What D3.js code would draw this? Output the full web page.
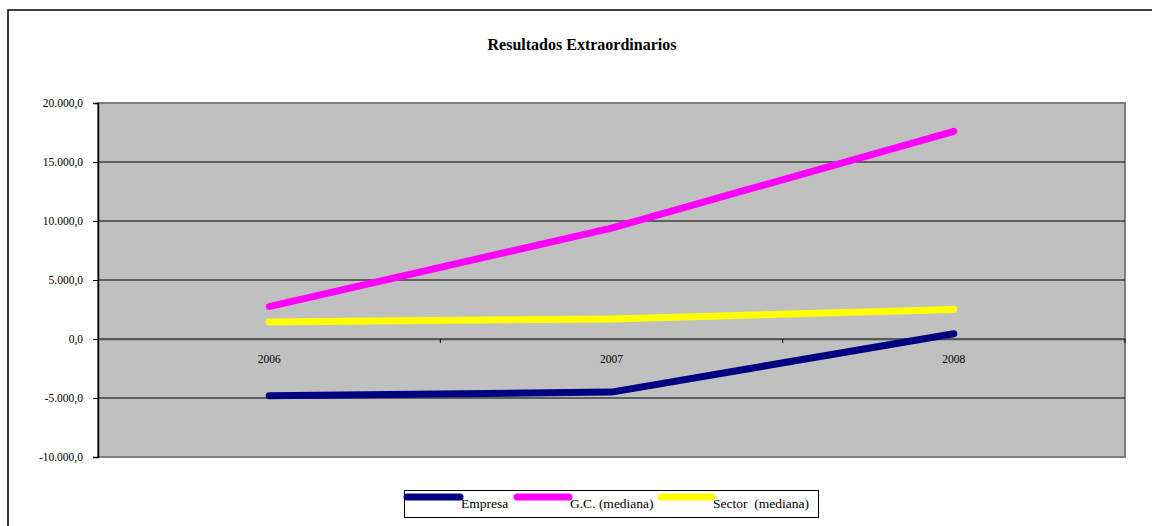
<!DOCTYPE html>
<html><head><meta charset="utf-8">
<script src="https://cdn.jsdelivr.net/npm/d3@7"></script>
<style>body{margin:0;background:#fff}svg{display:block;font-family:"Liberation Serif","Times New Roman",serif}</style>
</head><body><svg id="c" width="1152" height="526"></svg>
<script>
const categories = ["2006","2007","2008"];
const seriesNames = ["Empresa","G.C. (mediana)","Sector  (mediana)"];
const seriesColors = ["#000080","#ff00ff","#ffff00"];
const empresa = [-4800, -4500, 450];
const gc = [2750, 9400, 17600];
const sector = [1450, 1700, 2500];
const yTicks = [-10000,-5000,0,5000,10000,15000,20000];
const title = "Resultados Extraordinarios";

const svg = d3.select("#c");
const L=98, R=1125, T=103, B=457;
const FF = "'Liberation Serif','Times New Roman',serif";
// outer border
svg.append("path").attr("d","M8,526 L8,10 L1152,10").attr("fill","none").attr("stroke","#000").attr("stroke-width",1.5);
svg.append("text").attr("x",582).attr("y",50).attr("text-anchor","middle").attr("font-weight","bold").attr("font-size",16).attr("font-family",FF).text(title);

const x = d3.scaleBand().domain(categories).range([L,R]);
const y = d3.scaleLinear().domain([-10000,20000]).range([B,T]);
const fmt = v => d3.format(",.1f")(v).replace(/,/g,"#").replace(".",",").replace(/#/g,".").replace("\u2212","-");

svg.append("rect").attr("x",L).attr("y",T).attr("width",R-L).attr("height",B-T).attr("fill","#c0c0c0").attr("stroke","#808080").attr("stroke-width",2);
// gridlines
svg.append("g").selectAll("line").data(yTicks.filter(v=>v!==-10000&&v!==20000)).join("line")
  .attr("x1",L).attr("x2",R).attr("y1",d=>y(d)).attr("y2",d=>y(d)).attr("stroke","#000").attr("stroke-width",1);
// y axis
const ya = svg.append("g").attr("transform",`translate(${L},0)`).call(d3.axisLeft(y).tickValues(yTicks).tickFormat(fmt).tickSize(5).tickPadding(10));
ya.attr("font-family",FF);
ya.select(".domain").attr("stroke","#000").attr("stroke-width",1.5);
ya.selectAll("text").attr("font-size",11.5).attr("fill","#000");
// x axis at 0
const xa = svg.append("g").attr("transform",`translate(0,${y(0)})`).call(d3.axisBottom(x).tickSize(0).tickPadding(16));
xa.attr("font-family",FF);
xa.select(".domain").attr("stroke","#555").attr("stroke-width",1.5);
xa.selectAll("text").attr("font-size",11.5).attr("fill","#000");
svg.append("g").selectAll("line").data(categories).join("line")
  .attr("x1",(d,i)=>L+x.step()*(i+1)).attr("x2",(d,i)=>L+x.step()*(i+1)).attr("y1",y(0)).attr("y2",y(0)+4).attr("stroke","#000");

const allSeries = [empresa, gc, sector];
const line = d3.line().x((d,i)=>x(categories[i])+x.bandwidth()/2).y(d=>y(d));
svg.append("g").selectAll("path").data(allSeries).join("path")
  .attr("d",line).attr("fill","none").attr("stroke",(d,i)=>seriesColors[i]).attr("stroke-width",7).attr("stroke-linecap","round").attr("stroke-linejoin","round");

// legend
svg.append("rect").attr("x",404.5).attr("y",490.5).attr("width",414).attr("height",27).attr("fill","#fff").attr("stroke","#000").attr("stroke-width",1);
const lx = [407, 517, 661], lw = [53,52,51];
const lg = svg.append("g").attr("font-family",FF).selectAll("g").data(seriesNames).join("g");
lg.append("line").attr("x1",(d,i)=>lx[i]).attr("x2",(d,i)=>lx[i]+lw[i]).attr("y1",497).attr("y2",497)
  .attr("stroke",(d,i)=>seriesColors[i]).attr("stroke-width",7).attr("stroke-linecap","round");
lg.append("text").attr("x",(d,i)=>lx[i]+lw[i]+1).attr("y",508).attr("font-size",13.5).style("white-space","pre").text(d=>d);
</script></body></html>
